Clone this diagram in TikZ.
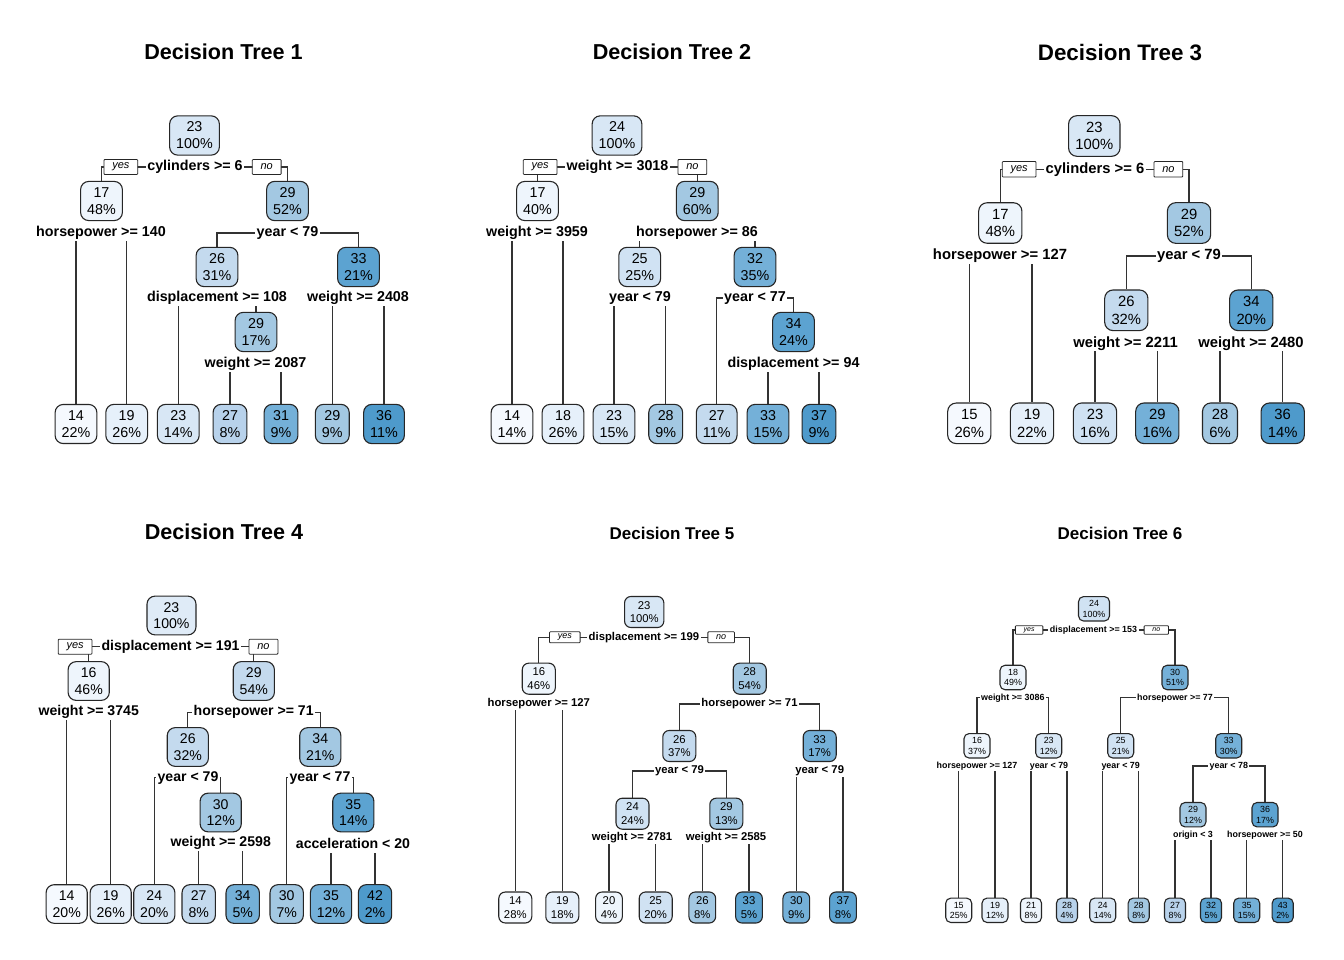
\documentclass[tikz,border=0pt]{standalone}
\usepackage{fontspec}
\setmainfont{Liberation Sans}
\usetikzlibrary{positioning}

\definecolor{blu0}{HTML}{F5F9FE}
\definecolor{blu1}{HTML}{EEF5FC}
\definecolor{blu2}{HTML}{E6F0FA}
\definecolor{blu3}{HTML}{DFEBF7}
\definecolor{blu4}{HTML}{D8E7F5}
\definecolor{blu5}{HTML}{D0E2F3}
\definecolor{blu6}{HTML}{C4DAEE}
\definecolor{blu7}{HTML}{B8D2EB}
\definecolor{blu8}{HTML}{A3C8E2}
\definecolor{blu9}{HTML}{74B0D8}
\definecolor{blu10}{HTML}{5CA3D1}
\definecolor{blu11}{HTML}{4E9ACB}
\definecolor{edgeclr}{HTML}{333333}

\pgfdeclarelayer{paper}
\pgfdeclarelayer{edges}
\pgfsetlayers{paper,edges,main}

% sizes of one tree: text, yes/no text, yes/no box height, title
\newcommand{\treesize}[4]{%
  \pgfmathsetmacro\tfs{#1}\pgfmathsetmacro\tbs{1.18*#1}%
  \pgfmathsetmacro\tht{0.74*#1}\pgfmathsetmacro\tdp{0.22*#1}%
  \pgfmathsetmacro\tix{0.46*#1}\pgfmathsetmacro\tiy{0.43*#1}%
  \pgfmathsetmacro\trc{0.57*#1}%
  \def\tys{#2}\def\tyh{#3}\def\tts{#4}}

\tikzset{
  tnode/.style={draw=black!85, line width=1.1pt, rounded corners=\trc pt, align=center,
    inner xsep=\tix pt, inner ysep=\tiy pt, font=\fontsize{\tfs}{\tbs}\selectfont},
  split/.style={fill=white, inner xsep=1.5pt, inner ysep=1pt, text height=\tht pt,
    text depth=\tdp pt, font=\bfseries\fontsize{\tfs}{\tbs}\selectfont},
  yesno/.style={draw=black!85, line width=0.8pt, fill=white, rounded corners=0.8pt,
    inner xsep=8.3pt, inner ysep=0pt, minimum height=\tyh pt,
    font=\itshape\fontsize{\tys}{\tys}\selectfont},
  title/.style={font=\bfseries\fontsize{\tts}{\tts}\selectfont},
  branch/.style={draw=edgeclr, line width=1.1pt}
}

\begin{document}
\begin{tikzpicture}[x=1pt, y=-1pt]
	\useasboundingbox (0,0) rectangle (1344,960);
	\begin{pgfonlayer}{paper}
		\fill[white] (0,0) rectangle (1344,960);
	\end{pgfonlayer}

	% tree 1
	\begin{scope}
		\treesize{14.3}{11}{15}{21.6}
		\node[title] (t1title) at (223.5,52) {Decision Tree 1};
		\node[tnode, fill=blu4] (t1n1) at (194.5,135.5) {23\\100\%};
		\node[split] (t1s1) at (195,167) {cylinders >= 6};
		\node[yesno, left=7.5pt of t1s1] (t1yes) {yes};
		\node[yesno, right=7.5pt of t1s1] (t1no) {no};
		\node[tnode, fill=blu1] (t1n2) at (101.5,201) {17\\48\%};
		\node[split] (t1s2) at (101,233) {horsepower >= 140};
		\node[tnode, fill=blu8] (t1n3) at (287.5,201) {29\\52\%};
		\node[split] (t1s3) at (287.5,233) {year < 79};
		\node[tnode, fill=blu6] (t1n6) at (217,267) {26\\31\%};
		\node[split] (t1s6) at (217,298) {displacement >= 108};
		\node[tnode, fill=blu8] (t1n13) at (256,332) {29\\17\%};
		\node[split] (t1s13) at (255.5,364) {weight >= 2087};
		\node[tnode, fill=blu10] (t1n7) at (358.5,267) {33\\21\%};
		\node[split] (t1s7) at (358,298) {weight >= 2408};
		\node[tnode, fill=blu0] (t1n4) at (76,424) {14\\22\%};
		\node[tnode, fill=blu2] (t1n5) at (126.7,424) {19\\26\%};
		\node[tnode, fill=blu4] (t1n12) at (178.3,424) {23\\14\%};
		\node[tnode, fill=blu7] (t1n26) at (230,424) {27\\8\%};
		\node[tnode, fill=blu9] (t1n27) at (281,424) {31\\9\%};
		\node[tnode, fill=blu8] (t1n14) at (332.3,424) {29\\9\%};
		\node[tnode, fill=blu11] (t1n15) at (384,424) {36\\11\%};
		\begin{pgfonlayer}{edges}
			\draw[branch] (t1s1.center) -| (t1n2.north);
			\draw[branch] (t1s1.center) -| (t1n3.north);
			\draw[branch] (t1s2.center) -| (t1n4.north);
			\draw[branch] (t1s2.center) -| (t1n5.north);
			\draw[branch] (t1s3.center) -| (t1n6.north);
			\draw[branch] (t1s3.center) -| (t1n7.north);
			\draw[branch] (t1s6.center) -| (t1n12.north);
			\draw[branch] (t1s6.center) -| (t1n13.north);
			\draw[branch] (t1s13.center) -| (t1n26.north);
			\draw[branch] (t1s13.center) -| (t1n27.north);
			\draw[branch] (t1s7.center) -| (t1n14.north);
			\draw[branch] (t1s7.center) -| (t1n15.north);
		\end{pgfonlayer}
	\end{scope}

	% tree 2
	\begin{scope}
		\treesize{14.3}{11}{15}{21.6}
		\node[title] (t2title) at (672,52) {Decision Tree 2};
		\node[tnode, fill=blu4] (t2n1) at (617,135.5) {24\\100\%};
		\node[split] (t2s1) at (617.5,167) {weight >= 3018};
		\node[yesno, left=7.5pt of t2s1] (t2yes) {yes};
		\node[yesno, right=7.5pt of t2s1] (t2no) {no};
		\node[tnode, fill=blu1] (t2n2) at (537.5,201) {17\\40\%};
		\node[split] (t2s2) at (537,233) {weight >= 3959};
		\node[tnode, fill=blu8] (t2n3) at (697.3,201) {29\\60\%};
		\node[split] (t2s3) at (697,233) {horsepower >= 86};
		\node[tnode, fill=blu5] (t2n6) at (639.7,267) {25\\25\%};
		\node[split] (t2s6) at (640,298) {year < 79};
		\node[tnode, fill=blu9] (t2n7) at (755,267) {32\\35\%};
		\node[split] (t2s7) at (755,298) {year < 77};
		\node[tnode, fill=blu10] (t2n15) at (793.5,332) {34\\24\%};
		\node[split] (t2s15) at (793.5,364) {displacement >= 94};
		\node[tnode, fill=blu0] (t2n4) at (512,424) {14\\14\%};
		\node[tnode, fill=blu2] (t2n5) at (563,424) {18\\26\%};
		\node[tnode, fill=blu4] (t2n12) at (614,424) {23\\15\%};
		\node[tnode, fill=blu8] (t2n13) at (665.7,424) {28\\9\%};
		\node[tnode, fill=blu6] (t2n14) at (716.7,424) {27\\11\%};
		\node[tnode, fill=blu9] (t2n30) at (768,424) {33\\15\%};
		\node[tnode, fill=blu11] (t2n31) at (819,424) {37\\9\%};
		\begin{pgfonlayer}{edges}
			\draw[branch] (t2s1.center) -| (t2n2.north);
			\draw[branch] (t2s1.center) -| (t2n3.north);
			\draw[branch] (t2s2.center) -| (t2n4.north);
			\draw[branch] (t2s2.center) -| (t2n5.north);
			\draw[branch] (t2s3.center) -| (t2n6.north);
			\draw[branch] (t2s3.center) -| (t2n7.north);
			\draw[branch] (t2s6.center) -| (t2n12.north);
			\draw[branch] (t2s6.center) -| (t2n13.north);
			\draw[branch] (t2s7.center) -| (t2n14.north);
			\draw[branch] (t2s7.center) -| (t2n15.north);
			\draw[branch] (t2s15.center) -| (t2n30.north);
			\draw[branch] (t2s15.center) -| (t2n31.north);
		\end{pgfonlayer}
	\end{scope}

	% tree 3
	\begin{scope}
		\treesize{14.8}{11}{15.5}{22.4}
		\node[title] (t3title) at (1120,53) {Decision Tree 3};
		\node[tnode, fill=blu4] (t3n1) at (1094.3,136) {23\\100\%};
		\node[split] (t3s1) at (1095,169.3) {cylinders >= 6};
		\node[yesno, left=7.5pt of t3s1] (t3yes) {yes};
		\node[yesno, right=7.5pt of t3s1] (t3no) {no};
		\node[tnode, fill=blu1] (t3n2) at (1000.3,223) {17\\48\%};
		\node[split] (t3s2) at (1000,256) {horsepower >= 127};
		\node[tnode, fill=blu8] (t3n3) at (1189,223) {29\\52\%};
		\node[split] (t3s3) at (1189,256) {year < 79};
		\node[tnode, fill=blu6] (t3n6) at (1126.3,310.3) {26\\32\%};
		\node[split] (t3s6) at (1125.5,343.3) {weight >= 2211};
		\node[tnode, fill=blu10] (t3n7) at (1251.3,310.3) {34\\20\%};
		\node[split] (t3s7) at (1251,343.3) {weight >= 2480};
		\node[tnode, fill=blu0] (t3n4) at (969.3,423.3) {15\\26\%};
		\node[tnode, fill=blu2] (t3n5) at (1032,423.3) {19\\22\%};
		\node[tnode, fill=blu5] (t3n12) at (1095,423.3) {23\\16\%};
		\node[tnode, fill=blu9] (t3n13) at (1157.3,423.3) {29\\16\%};
		\node[tnode, fill=blu8] (t3n14) at (1220,423.3) {28\\6\%};
		\node[tnode, fill=blu11] (t3n15) at (1282.7,423.3) {36\\14\%};
		\begin{pgfonlayer}{edges}
			\draw[branch] (t3s1.center) -| (t3n2.north);
			\draw[branch] (t3s1.center) -| (t3n3.north);
			\draw[branch] (t3s2.center) -| (t3n4.north);
			\draw[branch] (t3s2.center) -| (t3n5.north);
			\draw[branch] (t3s3.center) -| (t3n6.north);
			\draw[branch] (t3s3.center) -| (t3n7.north);
			\draw[branch] (t3s6.center) -| (t3n12.north);
			\draw[branch] (t3s6.center) -| (t3n13.north);
			\draw[branch] (t3s7.center) -| (t3n14.north);
			\draw[branch] (t3s7.center) -| (t3n15.north);
		\end{pgfonlayer}
	\end{scope}

	% tree 4
	\begin{scope}
		\treesize{14.1}{11}{15}{21.6}
		\node[title] (t4title) at (224,532) {Decision Tree 4};
		\node[tnode, fill=blu3] (t4n1) at (171.5,615.5) {23\\100\%};
		\node[split] (t4s1) at (170.5,646.7) {displacement >= 191};
		\node[yesno, left=7.5pt of t4s1] (t4yes) {yes};
		\node[yesno, right=7.5pt of t4s1] (t4no) {no};
		\node[tnode, fill=blu1] (t4n2) at (88.7,681) {16\\46\%};
		\node[split] (t4s2) at (88.7,712.3) {weight >= 3745};
		\node[tnode, fill=blu6] (t4n3) at (253.8,681) {29\\54\%};
		\node[split] (t4s3) at (253.7,712.3) {horsepower >= 71};
		\node[tnode, fill=blu6] (t4n6) at (187.8,747) {26\\32\%};
		\node[split] (t4s6) at (188,777.7) {year < 79};
		\node[tnode, fill=blu8] (t4n13) at (220.7,812.5) {30\\12\%};
		\node[split] (t4s13) at (220.7,843.3) {weight >= 2598};
		\node[tnode, fill=blu8] (t4n7) at (320.3,747) {34\\21\%};
		\node[split] (t4s7) at (320,777.7) {year < 77};
		\node[tnode, fill=blu10] (t4n15) at (353.3,812.5) {35\\14\%};
		\node[split] (t4s15) at (353,845) {acceleration < 20};
		\node[tnode, fill=blu0] (t4n4) at (66.7,904) {14\\20\%};
		\node[tnode, fill=blu2] (t4n5) at (110.7,904) {19\\26\%};
		\node[tnode, fill=blu4] (t4n12) at (154.3,904) {24\\20\%};
		\node[tnode, fill=blu6] (t4n26) at (198.7,904) {27\\8\%};
		\node[tnode, fill=blu9] (t4n27) at (242.7,904) {34\\5\%};
		\node[tnode, fill=blu8] (t4n14) at (286.7,904) {30\\7\%};
		\node[tnode, fill=blu9] (t4n30) at (331,904) {35\\12\%};
		\node[tnode, fill=blu11] (t4n31) at (375,904) {42\\2\%};
		\begin{pgfonlayer}{edges}
			\draw[branch] (t4s1.center) -| (t4n2.north);
			\draw[branch] (t4s1.center) -| (t4n3.north);
			\draw[branch] (t4s2.center) -| (t4n4.north);
			\draw[branch] (t4s2.center) -| (t4n5.north);
			\draw[branch] (t4s3.center) -| (t4n6.north);
			\draw[branch] (t4s3.center) -| (t4n7.north);
			\draw[branch] (t4s6.center) -| (t4n12.north);
			\draw[branch] (t4s6.center) -| (t4n13.north);
			\draw[branch] (t4s13.center) -| (t4n26.north);
			\draw[branch] (t4s13.center) -| (t4n27.north);
			\draw[branch] (t4s7.center) -| (t4n14.north);
			\draw[branch] (t4s7.center) -| (t4n15.north);
			\draw[branch] (t4s15.center) -| (t4n30.north);
			\draw[branch] (t4s15.center) -| (t4n31.north);
		\end{pgfonlayer}
	\end{scope}

	% tree 5
	\begin{scope}
		\treesize{11.3}{9}{11}{17}
		\node[title] (t5title) at (672,533) {Decision Tree 5};
		\node[tnode, fill=blu4] (t5n1) at (644.2,612) {23\\100\%};
		\node[split] (t5s1) at (644,637.3) {displacement >= 199};
		\node[yesno, left=6.5pt of t5s1] (t5yes) {yes};
		\node[yesno, right=6.5pt of t5s1] (t5no) {no};
		\node[tnode, fill=blu1] (t5n2) at (538.8,678.7) {16\\46\%};
		\node[split] (t5s2) at (538.8,704) {horsepower >= 127};
		\node[tnode, fill=blu8] (t5n3) at (749.7,678.7) {28\\54\%};
		\node[split] (t5s3) at (749.5,704) {horsepower >= 71};
		\node[tnode, fill=blu6] (t5n6) at (679.3,746) {26\\37\%};
		\node[split] (t5s6) at (679.5,771) {year < 79};
		\node[tnode, fill=blu5] (t5n12) at (632.5,813.7) {24\\24\%};
		\node[split] (t5s12) at (632,837.7) {weight >= 2781};
		\node[tnode, fill=blu8] (t5n13) at (726.3,813.7) {29\\13\%};
		\node[split] (t5s13) at (726,837.7) {weight >= 2585};
		\node[tnode, fill=blu9] (t5n7) at (819.7,746) {33\\17\%};
		\node[split] (t5s7) at (819.7,771) {year < 79};
		\node[tnode, fill=blu0] (t5n4) at (515.3,907.5) {14\\28\%};
		\node[tnode, fill=blu2] (t5n5) at (562.3,907.5) {19\\18\%};
		\node[tnode, fill=blu1] (t5n24) at (609,907.5) {20\\4\%};
		\node[tnode, fill=blu5] (t5n25) at (655.7,907.5) {25\\20\%};
		\node[tnode, fill=blu8] (t5n26) at (702.3,907.5) {26\\8\%};
		\node[tnode, fill=blu10] (t5n27) at (749,907.5) {33\\5\%};
		\node[tnode, fill=blu9] (t5n14) at (796.3,907.5) {30\\9\%};
		\node[tnode, fill=blu10] (t5n15) at (843,907.5) {37\\8\%};
		\begin{pgfonlayer}{edges}
			\draw[branch] (t5s1.center) -| (t5n2.north);
			\draw[branch] (t5s1.center) -| (t5n3.north);
			\draw[branch] (t5s2.center) -| (t5n4.north);
			\draw[branch] (t5s2.center) -| (t5n5.north);
			\draw[branch] (t5s3.center) -| (t5n6.north);
			\draw[branch] (t5s3.center) -| (t5n7.north);
			\draw[branch] (t5s6.center) -| (t5n12.north);
			\draw[branch] (t5s6.center) -| (t5n13.north);
			\draw[branch] (t5s12.center) -| (t5n24.north);
			\draw[branch] (t5s12.center) -| (t5n25.north);
			\draw[branch] (t5s13.center) -| (t5n26.north);
			\draw[branch] (t5s13.center) -| (t5n27.north);
			\draw[branch] (t5s7.center) -| (t5n14.north);
			\draw[branch] (t5s7.center) -| (t5n15.north);
		\end{pgfonlayer}
	\end{scope}

	% tree 6
	\begin{scope}
		\treesize{8.9}{7}{8.6}{17}
		\node[title] (t6title) at (1120,533) {Decision Tree 6};
		\node[tnode, fill=blu5] (t6n1) at (1094,608.8) {24\\100\%};
		\node[split] (t6s1) at (1093.5,630) {displacement >= 153};
		\node[yesno, left=5pt of t6s1] (t6yes) {yes};
		\node[yesno, right=5pt of t6s1] (t6no) {no};
		\node[tnode, fill=blu1] (t6n2) at (1013,677.5) {18\\49\%};
		\node[split] (t6s2) at (1012.8,697.7) {weight >= 3086};
		\node[tnode, fill=blu1] (t6n4) at (977,745.8) {16\\37\%};
		\node[split] (t6s4) at (977,766) {horsepower >= 127};
		\node[tnode, fill=blu4] (t6n5) at (1048.7,745.8) {23\\12\%};
		\node[split] (t6s5) at (1049,766) {year < 79};
		\node[tnode, fill=blu9] (t6n3) at (1175,677.5) {30\\51\%};
		\node[split] (t6s3) at (1175,697.7) {horsepower >= 77};
		\node[tnode, fill=blu5] (t6n6) at (1120.7,745.8) {25\\21\%};
		\node[split] (t6s6) at (1120.7,766) {year < 79};
		\node[tnode, fill=blu9] (t6n7) at (1228.7,745.8) {33\\30\%};
		\node[split] (t6s7) at (1228.8,766) {year < 78};
		\node[tnode, fill=blu8] (t6n14) at (1193,814.7) {29\\12\%};
		\node[split] (t6s14) at (1193,835) {origin < 3};
		\node[tnode, fill=blu10] (t6n15) at (1265,814.7) {36\\17\%};
		\node[split] (t6s15) at (1265,835) {horsepower >= 50};
		\node[tnode, fill=blu0] (t6n8) at (958.7,910.3) {15\\25\%};
		\node[tnode, fill=blu2] (t6n9) at (995,910.3) {19\\12\%};
		\node[tnode, fill=blu1] (t6n10) at (1031,910.3) {21\\8\%};
		\node[tnode, fill=blu7] (t6n11) at (1067,910.3) {28\\4\%};
		\node[tnode, fill=blu4] (t6n12) at (1102.7,910.3) {24\\14\%};
		\node[tnode, fill=blu8] (t6n13) at (1138.7,910.3) {28\\8\%};
		\node[tnode, fill=blu7] (t6n28) at (1175,910.3) {27\\8\%};
		\node[tnode, fill=blu10] (t6n29) at (1211,910.3) {32\\5\%};
		\node[tnode, fill=blu9] (t6n30) at (1246.7,910.3) {35\\15\%};
		\node[tnode, fill=blu11] (t6n31) at (1282.7,910.3) {43\\2\%};
		\begin{pgfonlayer}{edges}
			\draw[branch] (t6s1.center) -| (t6n2.north);
			\draw[branch] (t6s1.center) -| (t6n3.north);
			\draw[branch] (t6s2.center) -| (t6n4.north);
			\draw[branch] (t6s2.center) -| (t6n5.north);
			\draw[branch] (t6s4.center) -| (t6n8.north);
			\draw[branch] (t6s4.center) -| (t6n9.north);
			\draw[branch] (t6s5.center) -| (t6n10.north);
			\draw[branch] (t6s5.center) -| (t6n11.north);
			\draw[branch] (t6s3.center) -| (t6n6.north);
			\draw[branch] (t6s3.center) -| (t6n7.north);
			\draw[branch] (t6s6.center) -| (t6n12.north);
			\draw[branch] (t6s6.center) -| (t6n13.north);
			\draw[branch] (t6s7.center) -| (t6n14.north);
			\draw[branch] (t6s7.center) -| (t6n15.north);
			\draw[branch] (t6s14.center) -| (t6n28.north);
			\draw[branch] (t6s14.center) -| (t6n29.north);
			\draw[branch] (t6s15.center) -| (t6n30.north);
			\draw[branch] (t6s15.center) -| (t6n31.north);
		\end{pgfonlayer}
	\end{scope}
\end{tikzpicture}
\end{document}
